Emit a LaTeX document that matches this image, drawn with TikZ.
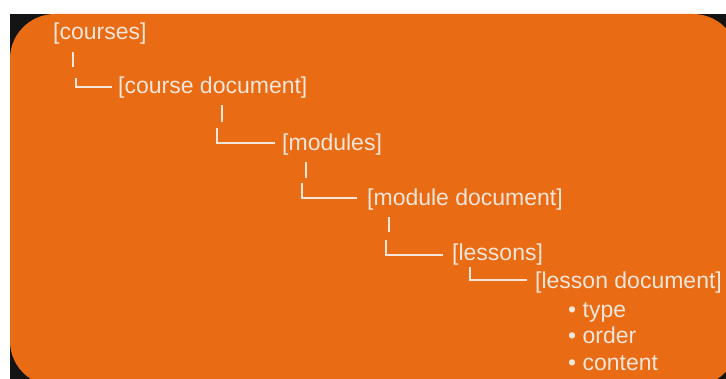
\documentclass[tikz,border=0pt]{standalone}
\usepackage{fontspec}
\setmainfont{Liberation Sans}
\usetikzlibrary{calc}
\definecolor{bgorange}{HTML}{E96B13}
\definecolor{bgdark}{HTML}{141414}
\definecolor{txt}{HTML}{F4E6DA}
\begin{document}
\begin{tikzpicture}[x=1pt,y=-1pt,
  lbl/.style={anchor=base west, inner sep=0pt, text=txt, font=\fontsize{23}{27}\selectfont},
  conn/.style={draw=txt, line width=1.8pt}]
\useasboundingbox (0,0) rectangle (726,379);
\fill[white] (0,0) rectangle (726,379);
\fill[bgdark] (10,14) rectangle (726,379);
\begin{scope}
\clip (0,0) rectangle (726,379);
\fill[bgorange, rounded corners=45pt] (10,14) rectangle (738,386);
\end{scope}

\node[lbl] (courses)   at (53,40)  {[courses]};
\node[lbl] (coursedoc) at (118,94) {[course document]};
\node[lbl] (modules)   at (282,151) {[modules]};
\node[lbl] (moduledoc) at (367,206) {[module document]};
\node[lbl] (lessons)   at (452,261) {[lessons]};
\node[lbl] (lessondoc) at (535,289) {[lesson document]};
\node[lbl] (type)      at (568,318) {• type};
\node[lbl] (order)     at (568,344) {• order};
\node[lbl] (content)   at (568,371) {• content};

% short vertical bars under parents
\draw[conn] ($(courses.base west)+(20,12)$) -- ++(0,15);
\draw[conn] ($(coursedoc.base west)+(104,11)$) -- ++(0,17);
\draw[conn] ($(modules.base west)+(24,11)$) -- ++(0,16);
\draw[conn] ($(moduledoc.base west)+(22,11)$) -- ++(0,15);

% elbow connectors into children
\draw[conn] ($(coursedoc.base west)+(-6,-7)$) -| ++(-36,-9);
\draw[conn] ($(modules.base west)+(-7,-8)$) -| ++(-58,-15);
\draw[conn] ($(moduledoc.base west)+(-10,-8)$) -| ++(-55,-15);
\draw[conn] ($(lessons.base west)+(-9,-6)$) -| ++(-57,-15);
\draw[conn] ($(lessondoc.base west)+(-8,-9)$) -| ++(-57,-13);
\end{tikzpicture}
\end{document}
